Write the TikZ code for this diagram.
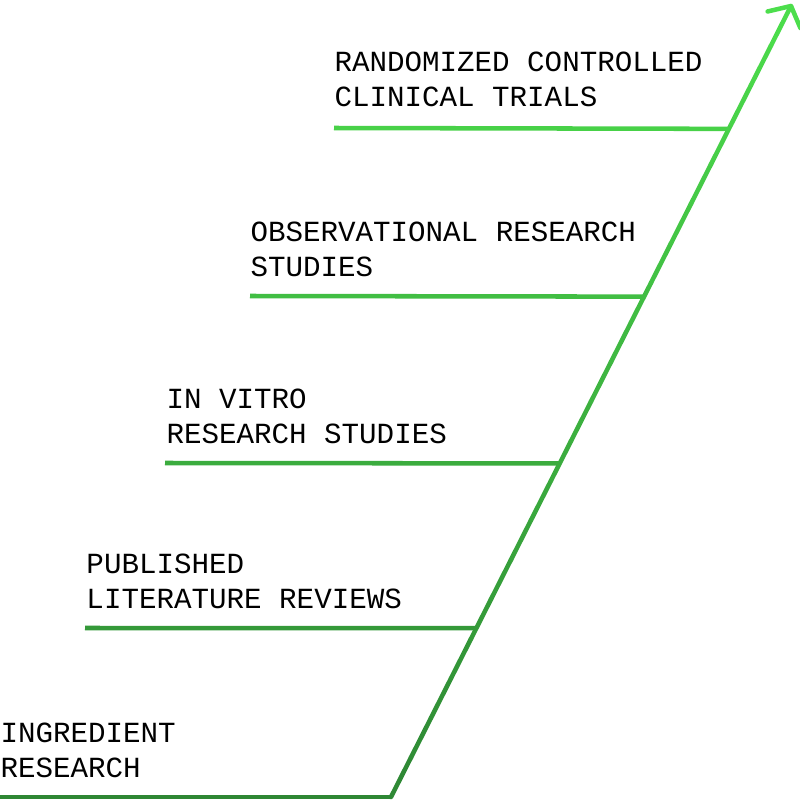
\documentclass[tikz,border=0pt]{standalone}
\usepackage{fontspec}
\setmonofont{Liberation Mono}
\usetikzlibrary{calc}
\definecolor{stairdark}{RGB}{46,135,52}
\definecolor{stairlight}{RGB}{76,222,76}
\tikzset{every picture/.style={line width=0.75pt}}
\tikzset{tier/.style={line width=3.4pt},
  rise/.style={line width=3.4pt, line cap=round},
  tierlabel/.style={anchor=base west, inner sep=0pt, align=left, font=\ttfamily\fontsize{21.9}{25.8}\selectfont}}
\begin{document}
\begin{tikzpicture}[x=0.75pt,y=0.75pt,yscale=-1,xscale=1]
\useasboundingbox (0,0) rectangle (800,801);

%Corners of the diagonal
\coordinate (base) at (391,797);
\coordinate (tip) at (791,6);

%Diagonal, light towards the top
\foreach \i in {0,...,19}{
  \pgfmathsetmacro{\shade}{\i*5+2.5}
  \pgfmathsetmacro{\from}{\i/20}
  \pgfmathsetmacro{\upto}{(\i+1)/20}
  \draw [rise, color=stairlight!\shade!stairdark] ($(base)!\from!(tip)$) -- ($(base)!\upto!(tip)$) ;
}
%Arrow head
\draw [rise, line join=round, color=stairlight] ($(tip)!18pt!50:(base)$) -- (tip) -- ($(tip)!18pt!-50:(base)$) ;

%Straight Lines [tier 0]
\coordinate (end0) at (0,797);
\draw [tier, color=stairdark] (end0) -- (base) ;
%Straight Lines [tier 1]
\coordinate (end1) at (85,628);
\coordinate (step1) at ($(base)!0.2134!(tip)$);
\draw [tier, color=stairlight!21!stairdark] (end1) -- (step1) ;
%Straight Lines [tier 2]
\coordinate (end2) at (165,463);
\coordinate (step2) at ($(base)!0.4217!(tip)$);
\draw [tier, color=stairlight!42!stairdark] (end2) -- (step2) ;
%Straight Lines [tier 3]
\coordinate (end3) at (250,296);
\coordinate (step3) at ($(base)!0.6326!(tip)$);
\draw [tier, color=stairlight!63!stairdark] (end3) -- (step3) ;
%Straight Lines [tier 4]
\coordinate (end4) at (334,128);
\coordinate (step4) at ($(base)!0.8447!(tip)$);
\draw [tier, color=stairlight!85!stairdark] (end4) -- (step4) ;

% Text Node
\node (label0) [tierlabel] at (0,777) {INGREDIENT\\RESEARCH};
% Text Node
\node (label1) [tierlabel] at (86,608) {PUBLISHED\\LITERATURE REVIEWS};
% Text Node
\node (label2) [tierlabel] at (166,443) {IN VITRO\\RESEARCH STUDIES};
% Text Node
\node (label3) [tierlabel] at (250,276) {OBSERVATIONAL RESEARCH\\STUDIES};
% Text Node
\node (label4) [tierlabel] at (334,106) {RANDOMIZED CONTROLLED\\CLINICAL TRIALS};

\end{tikzpicture}
\end{document}
